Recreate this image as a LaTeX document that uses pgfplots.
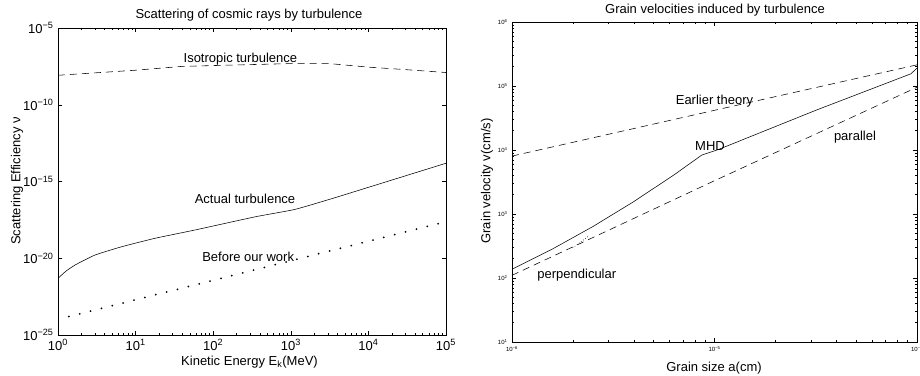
\documentclass[border=0pt]{standalone}
\usepackage{pgfplots}
\pgfplotsset{compat=1.18}
\usepackage{fontspec}
\setmainfont{Liberation Sans}
\newcommand\fs{\fontsize{13bp}{15bp}\selectfont}
\newcommand\fsmall{\fontsize{6bp}{7bp}\selectfont}
\pgfplotsset{
  matlab/.style={
    scale only axis,
    axis line style={line width=0.6bp},
    tick style={line width=0.5bp, black},
    major tick length=4bp, minor tick length=2bp,
    tick align=inside,
    xtick pos=both, ytick pos=both,
  },
  curve/.style={black, no markers, line width=0.55bp},
  dashedline/.style={curve, dash pattern=on 7bp off 5bp},
}
\begin{document}
\fs
\begin{tikzpicture}
\useasboundingbox (0,0) rectangle (920bp,376bp);

% Left panel: scattering efficiency against kinetic energy
\begin{loglogaxis}[matlab, at={(58bp,41bp)}, anchor=south west,
  width=388bp, height=307bp,
  xmin=1, xmax=1e5, ymin=1e-25, ymax=1e-5,
  xtick={1,10,100,1000,1e4,1e5},
  minor xtick={2,3,4,5,6,7,8,9,20,30,40,50,60,70,80,90,200,300,400,500,600,700,800,900,
    2e3,3e3,4e3,5e3,6e3,7e3,8e3,9e3,2e4,3e4,4e4,5e4,6e4,7e4,8e4,9e4},
  xticklabels={10\textsuperscript{0},10\textsuperscript{1},10\textsuperscript{2},10\textsuperscript{3},10\textsuperscript{4},10\textsuperscript{5}},
  ytick={1e-25,1e-20,1e-15,1e-10,1e-5},
  yticklabels={10\textsuperscript{−25},10\textsuperscript{−20},10\textsuperscript{−15},10\textsuperscript{−10},10\textsuperscript{−5}},
  minor ytick={},
]
% isotropic turbulence
\addplot[dashedline] coordinates {
  (1,8.32e-9) (10,1.78e-8) (39.8,3.16e-8) (224,3.98e-8) (1000,4.79e-8)
  (3162,4.79e-8) (1e4,2.82e-8) (31623,1.91e-8) (1e5,1.26e-8)};
% actual turbulence
\addplot[curve, smooth, tension=0.3] coordinates {
  (1,4.9e-22) (1.259,1.41e-21) (1.66,3.63e-21) (3.0,1.62e-20) (6.61,5.62e-20)
  (17.8,2.0e-19) (58.2,6.92e-19) (347,5.0e-18) (1122,1.51e-17)
  (3162,6.9e-17) (1e4,4.17e-16) (1e5,1.55e-14)};
% before our work
\addplot[black, no markers, line width=2bp, line cap=round, dash pattern=on 0pt off 11.2bp] coordinates {
  (1,1.05e-24) (1e5,2.40e-18)};
\node at (axis cs:224,1.0e-7) {Isotropic turbulence};
\node at (axis cs:257,7.24e-17) {Actual turbulence};
\node at (axis cs:282,1.2e-20) {Before our work};
\end{loglogaxis}

% Right panel: grain velocity against grain size
\begin{loglogaxis}[matlab, at={(512bp,34bp)}, anchor=south west,
  width=405bp, height=320bp,
  xmin=1e-6, xmax=1e-4, ymin=10, ymax=1e6,
  xtick={1e-6,1e-5,1e-4},
  minor xtick={2e-6,3e-6,4e-6,5e-6,6e-6,7e-6,8e-6,9e-6,2e-5,3e-5,4e-5,5e-5,6e-5,7e-5,8e-5,9e-5},
  xticklabels={10\textsuperscript{−6},10\textsuperscript{−5},10\textsuperscript{−4}},
  ytick={10,100,1000,1e4,1e5,1e6},
  minor ytick={20,30,40,50,60,70,80,90,200,300,400,500,600,700,800,900,
    2e3,3e3,4e3,5e3,6e3,7e3,8e3,9e3,2e4,3e4,4e4,5e4,6e4,7e4,8e4,9e4,
    2e5,3e5,4e5,5e5,6e5,7e5,8e5,9e5},
  yticklabels={10\textsuperscript{1},10\textsuperscript{2},10\textsuperscript{3},10\textsuperscript{4},10\textsuperscript{5},10\textsuperscript{6}},
  ticklabel style={font=\fsmall},
]
% earlier theory
\addplot[dashedline] coordinates {(1e-6,8035) (1e-5,4.17e4) (1e-4,2.14e5)};
% MHD
\addplot[curve] coordinates {
  (1e-6,137) (1.585e-6,284) (2.512e-6,638) (3.981e-6,1552) (6.31e-6,4083)
  (8.65e-6,8318) (1.047e-5,1.02e4) (3.162e-5,4.17e4)
  (9.33e-5,1.55e5) (1e-4,1.905e5)};
% parallel
\addplot[dashedline] coordinates {(1e-6,110) (1e-5,3311) (1e-4,9.55e4)};
% perpendicular
\addplot[black, no markers, line width=0.6bp, dash pattern=on 0.6bp off 2bp] coordinates {
  (1.995e-6,295) (2.399e-6,457)};
\node at (axis cs:1e-5,5.8e4) {Earlier theory};
\node at (axis cs:9.5e-6,1.15e4) {MHD};
\node at (axis cs:4.94e-5,1.58e4) {parallel};
\node at (axis cs:2.09e-6,111) {perpendicular};
\end{loglogaxis}

% titles and axis labels
\node[anchor=base] at (249bp,357bp) {Scattering of cosmic rays by turbulence};
\node[anchor=base] at (715bp,362bp) {Grain velocities induced by turbulence};
\node[anchor=base] at (249.5bp,11bp) {Kinetic Energy E\textsubscript{k}(MeV)};
\node[anchor=base] at (714bp,5bp) {Grain size a(cm)};
\node[rotate=90] at (17bp,195bp) {Scattering Efficiency ν};
\node[rotate=90] at (487bp,195bp) {Grain velocity v(cm/s)};
\end{tikzpicture}
\end{document}
